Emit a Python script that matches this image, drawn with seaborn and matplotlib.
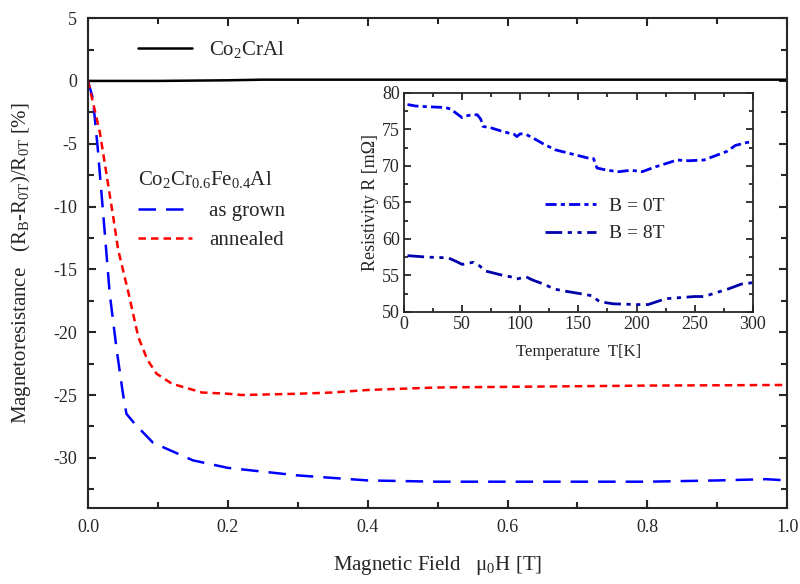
import numpy as np
import pandas as pd
import matplotlib.pyplot as plt
import seaborn as sns

# main panel: magnetoresistance vs field
field_crcral = [0.0, 0.05, 0.1, 0.2, 0.25, 0.4, 0.6, 0.8, 1.0]
mr_crcral = [0.0, 0.0, 0.0, 0.05, 0.1, 0.1, 0.1, 0.1, 0.1]

field_grown = [0.0, 0.007, 0.014, 0.024, 0.031, 0.041, 0.05, 0.055, 0.067,
               0.093, 0.15, 0.2, 0.3, 0.4, 0.5, 0.6, 0.7, 0.8, 0.9, 0.97, 1.0]
mr_grown = [0.0, -1.4, -5.4, -12.1, -16.9, -21.4, -24.9, -26.5, -27.3, -28.8,
            -30.2, -30.8, -31.4, -31.8, -31.9, -31.9, -31.9, -31.9, -31.8,
            -31.7, -31.8]

field_annealed = [0.0, 0.017, 0.036, 0.043, 0.058, 0.072, 0.085, 0.098, 0.12,
                  0.163, 0.2, 0.22, 0.3, 0.35, 0.4, 0.5, 0.6, 0.8, 1.0]
mr_annealed = [0.0, -4.1, -10.8, -13.4, -16.9, -20.4, -22.2, -23.3, -24.1,
               -24.8, -24.9, -25.0, -24.9, -24.8, -24.6, -24.4, -24.35, -24.25,
               -24.2]

# inset: resistivity vs temperature
temp_0T = [3, 10, 20, 35, 40, 45, 50, 55, 60, 63, 66, 68, 75, 85, 95, 97, 100,
           105, 110, 120, 130, 140, 150, 160, 163, 166, 175, 185, 195, 205,
           215, 225, 235, 245, 258, 268, 278, 285, 295, 300]
res_0T = [78.4, 78.2, 78.1, 78.0, 77.8, 77.2, 76.6, 76.9, 77.0, 77.0, 76.4,
          75.4, 75.2, 74.7, 74.3, 74.0, 74.4, 74.3, 73.9, 73.0, 72.2, 71.8,
          71.4, 71.0, 71.0, 69.7, 69.4, 69.2, 69.4, 69.2, 69.8, 70.3, 70.8,
          70.7, 70.8, 71.4, 72.0, 72.8, 73.2, 73.3]

temp_8T = [3, 20, 38, 45, 50, 60, 65, 70, 85, 95, 97, 105, 110, 120, 130, 140,
           155, 162, 168, 180, 200, 210, 225, 250, 258, 270, 280, 290, 300]
res_8T = [57.7, 57.5, 57.4, 56.9, 56.5, 56.8, 56.3, 55.6, 55.0, 54.7, 54.5,
          54.8, 54.4, 53.8, 53.1, 52.8, 52.4, 52.2, 51.4, 51.1, 51.0, 51.0,
          51.8, 52.1, 52.1, 52.7, 53.2, 53.8, 54.0]

sns.set_theme(style="ticks")
plt.rcParams["font.family"] = ["Liberation Serif", "DejaVu Serif"]
plt.rcParams["mathtext.fontset"] = "custom"
plt.rcParams["mathtext.rm"] = "Liberation Serif"
plt.rcParams["mathtext.it"] = "Liberation Serif"
plt.rcParams["mathtext.default"] = "regular"
plt.rcParams["axes.unicode_minus"] = False

fig = plt.figure(figsize=(8, 5.84), dpi=100)
ax = fig.add_axes([0.11, 0.13, 0.874, 0.839])

sns.lineplot(x=field_crcral, y=mr_crcral, ax=ax, color="black", lw=1.8,
             label="Co$_2$CrAl", legend=False)
sns.lineplot(x=field_grown, y=mr_grown, ax=ax, color="#0000ff", lw=1.8,
             label="as grown", legend=False)
sns.lineplot(x=field_annealed, y=mr_annealed, ax=ax, color="#ff0000", lw=1.8,
             label="annealed", legend=False)
lines = ax.get_lines()
lines[1].set_dashes([7, 4])
lines[2].set_dashes([3, 2])

ax.set_xlim(0, 1.0)
ax.set_ylim(-34, 5)
ax.set_xticks(np.arange(0, 1.01, 0.2))
ax.set_xticklabels(["0.0", "0.2", "0.4", "0.6", "0.8", "1.0"])
ax.set_xticks(np.arange(0, 1.01, 0.1), minor=True)
ax.set_yticks(np.arange(-30, 6, 5))
ax.set_yticks(np.arange(-32.5, 5, 2.5), minor=True)
ax.tick_params(which="both", direction="in", top=True, right=True,
               labelsize=13, width=1.5)
ax.tick_params(which="major", length=6, pad=8)
ax.tick_params(which="minor", length=4)
for s in ax.spines.values():
    s.set_linewidth(1.5)
ax.set_xlabel("Magnetic Field   μ$_0$H [T]", fontsize=15, labelpad=13)
ax.set_ylabel("Magnetoresistance   (R$_B$-R$_{0T}$)/R$_{0T}$ [%]",
              fontsize=15, labelpad=14)

leg1 = ax.legend(handles=[lines[0]], loc="upper left",
                 bbox_to_anchor=(0.045, 0.995), frameon=False, fontsize=15,
                 handlelength=2.6, handletextpad=0.8)
ax.add_artist(leg1)
leg2 = ax.legend(handles=[lines[1], lines[2]], loc="upper left",
                 title="Co$_2$Cr$_{0.6}$Fe$_{0.4}$Al",
                 bbox_to_anchor=(0.045, 0.73), frameon=False, fontsize=15,
                 title_fontsize=15, handlelength=2.6, handletextpad=0.8,
                 labelspacing=0.45)
leg2._legend_box.align = "left"
leg2._legend_box.sep = 8

# inset
axi = fig.add_axes([0.505, 0.466, 0.436, 0.375])
sns.lineplot(x=temp_0T, y=res_0T, ax=axi, color="#0000ee", lw=2.0,
             label="B = 0T", legend=False)
sns.lineplot(x=temp_8T, y=res_8T, ax=axi, color="#0000aa", lw=2.0,
             label="B = 8T", legend=False)
il = axi.get_lines()
il[0].set_dashes([4, 1.5, 1.5, 1.5])
il[1].set_dashes([6, 2, 1.5, 2, 1.5, 2])
axi.set_xlim(0, 300)
axi.set_ylim(50, 80)
axi.set_xticks(np.arange(0, 301, 50))
axi.set_xticks(np.arange(0, 301, 25), minor=True)
axi.set_yticks(np.arange(50, 81, 5))
axi.set_yticks(np.arange(50, 81, 2.5), minor=True)
axi.tick_params(which="both", direction="in", top=True, right=True,
                labelsize=13, width=1.3, pad=3)
axi.tick_params(which="major", length=5)
axi.tick_params(which="minor", length=3)
for s in axi.spines.values():
    s.set_linewidth(1.3)
axi.set_xlabel("Temperature  T[K]", fontsize=12, labelpad=8)
axi.set_ylabel("Resistivity R [mΩ]", fontsize=13, labelpad=2)
axi.legend(loc="center left", bbox_to_anchor=(0.355, 0.42), frameon=False,
           fontsize=14, handlelength=2.6, handletextpad=0.7,
           labelspacing=0.5)

fig.savefig("out.png", dpi=100)
